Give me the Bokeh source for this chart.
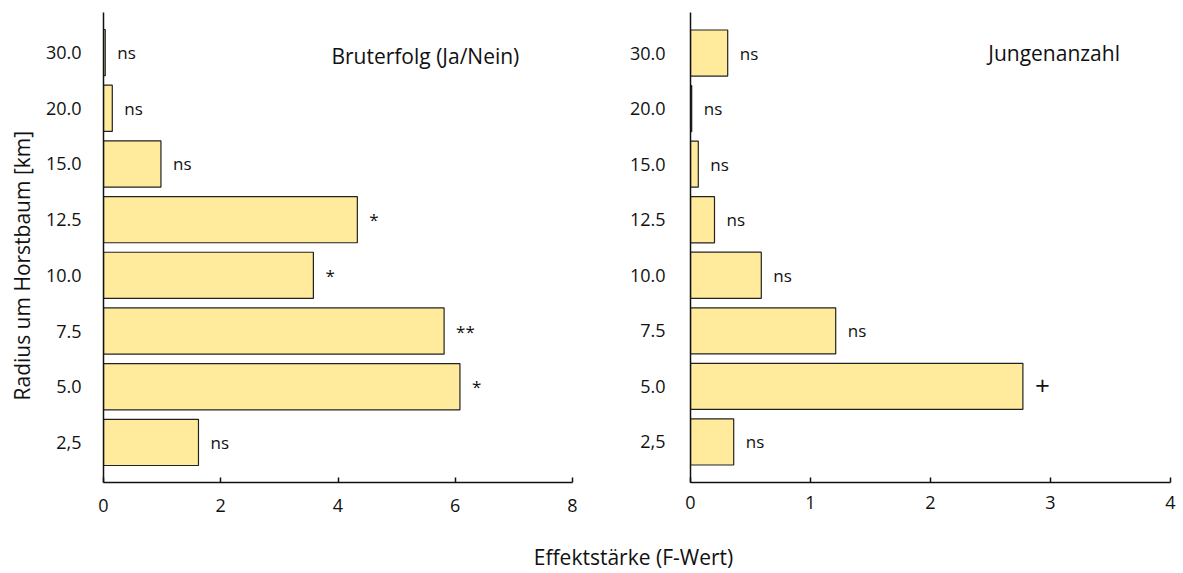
from bokeh.plotting import figure
from bokeh.models import FactorRange, Range1d, Label, ColumnDataSource, FixedTicker, Title
from bokeh.layouts import column, row
from bokeh.embed import file_html
from bokeh.resources import INLINE
from bokeh.core.properties import value

# ---- data ----
radius = ["2,5", "5.0", "7.5", "10.0", "12.5", "15.0", "20.0", "30.0"]
bruterfolg_f = [1.62, 6.08, 5.81, 3.58, 4.33, 0.98, 0.15, 0.03]
bruterfolg_sig = ["ns", "*", "**", "*", "*", "ns", "ns", "ns"]
jungen_f = [0.36, 2.77, 1.21, 0.59, 0.20, 0.065, 0.01, 0.31]
jungen_sig = ["ns", "+", "ns", "ns", "ns", "ns", "ns", "ns"]
ticks_left = [0, 2, 4, 6, 8]
ticks_right = [0, 1, 2, 3, 4]

FONT = "Open Sans"
FS_TICK = "18px"
FS_SIG = "17px"
FS_PLUS = "26px"
FS_LAB = "21px"
BAR = "#FFEB9B"
EDGE = "#222222"
TXT = "#111111"
H = 526


def panel(vals, sigs, xmax, ticks, title, title_x, title_dy, width,
          mbl, mbr, mbt, mbb, pad, xstand, ystand):
    sizes = [FS_PLUS if s == "+" else FS_SIG for s in sigs]
    src = ColumnDataSource(dict(r=radius, f=vals, s=sigs, fs=sizes))
    p = figure(width=width, height=H, output_backend="svg", toolbar_location=None,
               y_range=FactorRange(factors=radius, range_padding=pad,
                                   range_padding_units="absolute"),
               x_range=Range1d(0, xmax),
               min_border_left=mbl, min_border_right=mbr,
               min_border_top=mbt, min_border_bottom=mbb)
    p.hbar(y="r", left=0, right="f", height=0.83, source=src,
           fill_color=BAR, line_color=EDGE, line_width=1.2)
    p.text(x="f", y="r", text="s", source=src, x_offset=12,
           text_baseline="middle", text_align="left",
           text_font=value(FONT), text_font_size="fs", text_color=TXT)
    # panel title on the row of the top category (synthetic coordinate of its centre)
    p.add_layout(Label(x=title_x, y=len(radius) - 0.5, text=title, text_align="center",
                       text_baseline="alphabetic", y_offset=title_dy,
                       text_font=FONT, text_font_size=FS_LAB, text_color=TXT))
    p.xgrid.visible = False
    p.ygrid.visible = False
    p.outline_line_color = None
    p.background_fill_color = "white"
    p.border_fill_color = "white"

    xa = p.xaxis[0]
    xa.ticker = FixedTicker(ticks=ticks)
    xa.minor_tick_line_color = None
    xa.major_tick_in = 5
    xa.major_tick_out = 0
    xa.axis_line_width = 1.5
    xa.major_tick_line_width = 1.5
    xa.axis_line_color = TXT
    xa.major_tick_line_color = TXT
    xa.major_label_standoff = xstand
    xa.major_label_text_font = FONT
    xa.major_label_text_font_size = FS_TICK
    xa.major_label_text_color = TXT

    ya = p.yaxis[0]
    ya.major_tick_line_color = None
    ya.minor_tick_line_color = None
    ya.axis_line_width = 1.5
    ya.axis_line_color = TXT
    ya.major_label_standoff = ystand
    ya.major_label_text_font = FONT
    ya.major_label_text_font_size = FS_TICK
    ya.major_label_text_color = TXT
    return p


p1 = panel(bruterfolg_f, bruterfolg_sig, 8, ticks_left, "Bruterfolg (Ja/Nein)", 5.49, -3,
           600, 103, 28, 12, H - 12 - 470, 0.22, 16, 16)
p2 = panel(jungen_f, jungen_sig, 4, ticks_right, "Jungenanzahl", 3.03, 0,
           578, 90, 8, 7, H - 7 - 481, 0.23, 13, 19)

# y-axis title (shared), as a left-side title of the first panel, starting above the frame bottom
p1.add_layout(Title(text="Radius um Horstbaum [km]", align="left", offset=82,
                    standoff=12, vertical_align="middle",
                    text_font=FONT, text_font_size=FS_LAB,
                    text_font_style="normal", text_color=TXT), "left")

# shared x-axis title, centred between the left frame start and the right frame end
W3 = 1183
H3 = 573 - H
p3 = figure(width=W3, height=H3, output_backend="svg", toolbar_location=None,
            x_range=Range1d(0, 1), y_range=Range1d(0, 1),
            x_axis_type=None, y_axis_type=None,
            min_border_left=100, min_border_right=W3 - 1166,
            min_border_top=44, min_border_bottom=0)
p3.grid.visible = False
p3.outline_line_color = None
p3.add_layout(Title(text="Effektstärke (F-Wert)", align="center", standoff=0,
                    text_font=FONT, text_font_size=FS_LAB, text_font_style="normal",
                    text_color=TXT), "above")

layout = column(row(p1, p2), p3)
open("out.html", "w").write(file_html(layout, INLINE))
